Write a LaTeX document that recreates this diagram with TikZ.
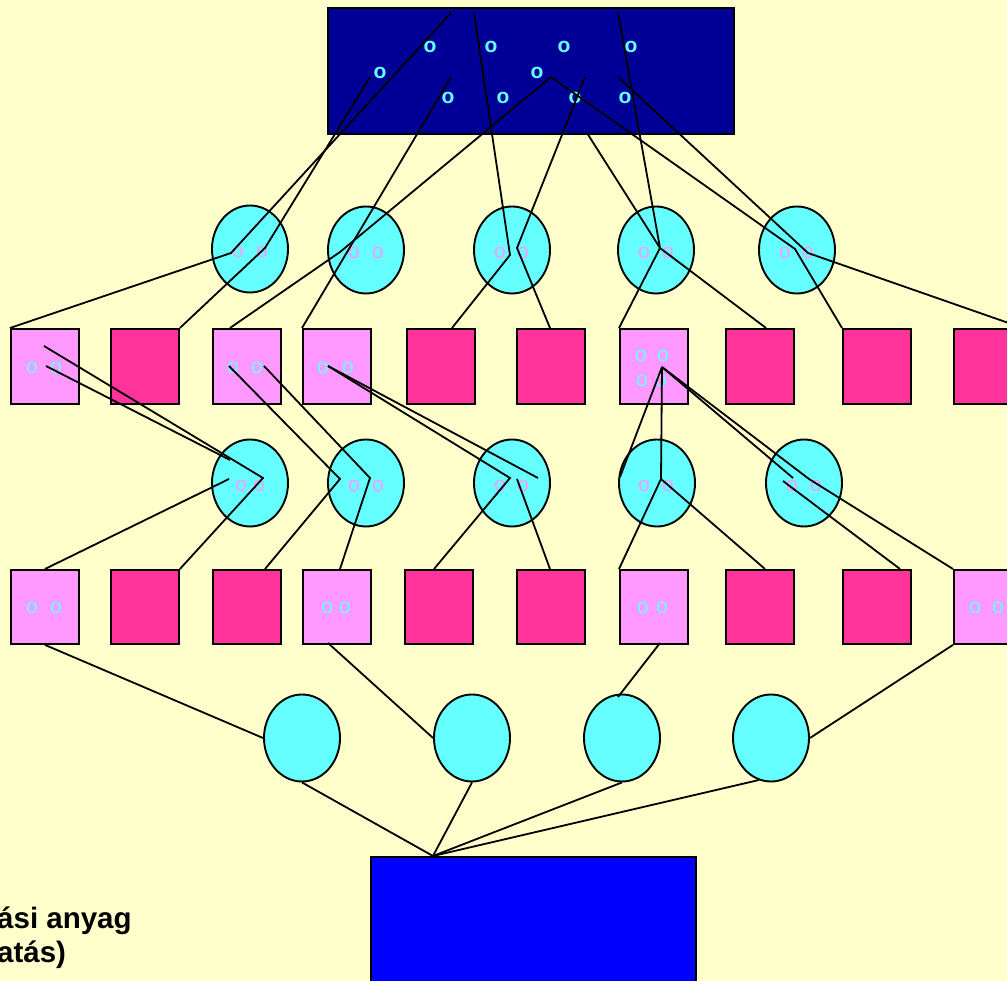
\documentclass[tikz,border=0pt]{standalone}
\usepackage{fontspec}
\setmainfont{Liberation Sans}
\usetikzlibrary{shapes.geometric}
\definecolor{paper}{HTML}{FFFFCC}
\definecolor{navy}{RGB}{0,0,150}
\definecolor{aqua}{HTML}{66FFFF}
\definecolor{lilac}{HTML}{FF99FF}
\definecolor{rose}{HTML}{FF3399}
\definecolor{pureblue}{RGB}{0,0,255}
% two small letters o whose centres lie #1 pt apart
\newcommand\opair[1]{o\hspace{\dimexpr #1pt - 0.556em\relax}o}
\begin{document}
\begin{tikzpicture}[x=1pt,y=-1pt,
  wire/.style={draw=black,line width=1.8pt,line join=miter},
  oval/.style={ellipse,draw=black,line width=1.9pt,fill=aqua,
    minimum width=76pt,minimum height=87pt,inner sep=0pt},
  tile/.style={rectangle,draw=black,line width=1.9pt,minimum width=68pt,
    minimum height=75pt,inner sep=0pt,anchor=north west},
  pale/.style={tile,fill=lilac},
  deep/.style={tile,fill=rose},
  obold/.style={text=aqua,inner sep=0pt,font=\bfseries\fontsize{21}{21}\selectfont},
  opink/.style={text=lilac,inner sep=0pt,font=\fontsize{21}{21}\selectfont},
  ocyan/.style={text=aqua,inner sep=0pt,font=\fontsize{21}{21}\selectfont},
  caption/.style={anchor=base west,inner sep=0pt,font=\bfseries\fontsize{29.5}{34}\selectfont}]

\useasboundingbox (0,0) rectangle (1007,981);
\fill[paper] (0,0) rectangle (1007,981);
\clip (0,0) rectangle (1007,981);

% ---- the two big blocks
\node[draw=black,line width=2pt,fill=navy,minimum width=406pt,minimum height=126pt,
      inner sep=0pt,anchor=north west] (top) at (327,7) {};
\node[draw=black,line width=2pt,fill=pureblue,minimum width=325pt,minimum height=160pt,
      inner sep=0pt,anchor=north west] (base) at (370,856) {};

% ---- letters in the upper block
\node[obold] (o1) at (430,47) {o};
\node[obold] (o2) at (491,47) {o};
\node[obold] (o3) at (564,47) {o};
\node[obold] (o4) at (631,47) {o};
\node[obold] (o5) at (380,73) {o};
\node[obold] (o6) at (537,73) {o};
\node[obold] (o7) at (448,98) {o};
\node[obold] (o8) at (503,98) {o};
\node[obold] (o9) at (575,98) {o};
\node[obold] (o10) at (625,98) {o};

% ---- first row of ovals
\node[oval] (r1) at (250,249) {};
\node[oval] (r2) at (366,250) {};
\node[oval] (r3) at (512,250) {};
\node[oval] (r4) at (656,250) {};
\node[oval] (r5) at (797,250) {};

% ---- first row of tiles
\node[pale] (a1) at (10,328) {};
\node[deep] (a2) at (110,328) {};
\node[pale] (a3) at (212,328) {};
\node[pale] (a4) at (302,328) {};
\node[deep] (a5) at (406,328) {};
\node[deep] (a6) at (516,328) {};
\node[pale] (a7) at (619,328) {};
\node[deep] (a8) at (725,328) {};
\node[deep] (a9) at (842,328) {};
\node[deep] (a10) at (953,328) {};

% ---- second row of ovals
\node[oval] (s1) at (250,483) {};
\node[oval] (s2) at (366,483) {};
\node[oval] (s3) at (512,483) {};
\node[oval] (s4) at (657,483) {};
\node[oval] (s5) at (804,483) {};

% ---- second row of tiles
\node[pale,minimum height=74pt] (b1) at (10,569) {};
\node[deep,minimum height=74pt] (b2) at (110,569) {};
\node[deep,minimum height=74pt] (b3) at (212,569) {};
\node[pale,minimum height=74pt] (b4) at (302,569) {};
\node[deep,minimum height=74pt] (b5) at (404,569) {};
\node[deep,minimum height=74pt] (b6) at (516,569) {};
\node[pale,minimum height=74pt] (b7) at (619,569) {};
\node[deep,minimum height=74pt] (b8) at (725,569) {};
\node[deep,minimum height=74pt] (b9) at (842,569) {};
\node[pale,minimum height=74pt] (b10) at (953,569) {};

% ---- third row of ovals
\node[oval] (t1) at (302,738) {};
\node[oval] (t2) at (472,738) {};
\node[oval] (t3) at (622,738) {};
\node[oval] (t4) at (771,738) {};

% ---- letter pairs
\node[opink] (lr1) at (250,252) {\opair{24}};
\node[opink] (lr2) at (366,253) {\opair{24}};
\node[opink] (lr3) at (511.5,253) {\opair{23}};
\node[opink] (lr4) at (656,253) {\opair{24}};
\node[opink] (lr5) at (796.5,253) {\opair{23}};
\node[opink] (ls1) at (250,486) {\opair{18}};
\node[opink] (ls2) at (366,486) {\opair{24}};
\node[opink] (ls3) at (511.5,486) {\opair{23}};
\node[opink] (ls4) at (656,486) {\opair{24}};
\node[opink] (ls5) at (804,486) {\opair{24}};
\node[ocyan] (la1) at (44,368) {\opair{24}};
\node[ocyan] (la3) at (245,368) {\opair{24}};
\node[ocyan] (la4) at (335.5,368) {\opair{25}};
\node[ocyan] (la7a) at (652,356) {\opair{22}};
\node[ocyan] (la7b) at (651.5,381) {\opair{19}};
\node[ocyan] (lb1) at (44,608) {\opair{24}};
\node[ocyan] (lb4) at (336,608) {\opair{18}};
\node[ocyan] (lb7) at (652.5,608) {\opair{19}};
\node[ocyan] (lb10) at (986.5,608) {\opair{23}};

% ---- caption at the lower left
\node[caption] (cap1) at (-3,928) {ási anyag};
\node[caption] (cap2) at (-3,962) {atás)};

% ---- points where the wires start and bend
\coordinate (p1) at (451,13);
\coordinate (p2) at (370,77);
\coordinate (p3) at (451,77);
\coordinate (p4) at (551,77);
\coordinate (p5) at (618,77);
\coordinate (p6) at (618,13);
\coordinate (p7) at (587,133);
\coordinate (p8) at (585,77);
\coordinate (p9) at (474,13);
\coordinate (k1) at (231,253);
\coordinate (k2) at (265,248);
\coordinate (k3) at (340,252);
\coordinate (k4) at (795,249);
\coordinate (k5) at (808,253);
\coordinate (k6) at (660,248);
\coordinate (k7) at (517,248);
\coordinate (k8) at (510,255);
\coordinate (e3) at (230,328);
\coordinate (e5) at (452,328);
\coordinate (e6) at (550,328);
\coordinate (e8) at (766,328);

\coordinate (m1) at (44,346);
\coordinate (m2) at (46,366);
\coordinate (m3) at (229,366);
\coordinate (m4) at (264,366);
\coordinate (m5) at (328,366);
\coordinate (m6) at (662,367);
\coordinate (n1) at (263,478);
\coordinate (n2) at (230,460);
\coordinate (n3) at (229,479);
\coordinate (n4) at (340,479);
\coordinate (n5) at (370,478);
\coordinate (n6) at (538,478);
\coordinate (n7) at (510,478);
\coordinate (n8) at (517,479);
\coordinate (n9) at (620,477);
\coordinate (n10) at (661,479);
\coordinate (n11) at (793,478);
\coordinate (n12) at (809,479);
\coordinate (n13) at (783,481);
\coordinate (f3) at (265,569);
\coordinate (f4) at (340,569);
\coordinate (f5) at (434,569);
\coordinate (f6) at (550,569);
\coordinate (f8) at (765,569);
\coordinate (f9) at (900,569);

\coordinate (g4) at (328,643);
\coordinate (g7) at (660,643);
\coordinate (h3) at (618,697);
\coordinate (h4) at (759,780);
\coordinate (hub) at (433,856);

% ---- upper block to first tiles
\draw[wire] (p1) -- (k1) -- (a1.north west);
\draw[wire] (p2) -- (k2) -- (a2.north east);
\draw[wire] (p3) -- (a4.north west);
\draw[wire] (p4) -- (k3) -- (e3);
\draw[wire] (p4) -- (k4) -- (a9.north west);
\draw[wire] (p5) -- (k5) -- (a10.north east);
\draw[wire] (p6) -- (k6) -- (a7.north west);
\draw[wire] (p7) -- (k6) -- (e8);
\draw[wire] (p8) -- (k7) -- (e6);
\draw[wire] (p9) -- (k8) -- (e5);

% ---- first tiles to second tiles
\draw[wire] (m1) -- (n1) -- (b2.north east);
\draw[wire] (m2) -- (n2);
\draw[wire] (n3) -- (b1.north);
\draw[wire] (m3) -- (n4) -- (f3);
\draw[wire] (m4) -- (n5) -- (f4);
\draw[wire] (m5) -- (n6);
\draw[wire] (m5) -- (n7) -- (f5);
\draw[wire] (n8) -- (f6);
\draw[wire] (m6) -- (n9);
\draw[wire] (m6) -- (n10) -- (b7.north west);
\draw[wire] (n10) -- (f8);
\draw[wire] (m6) -- (n11);
\draw[wire] (n13) -- (f9);
\draw[wire] (m6) -- (n12) -- (b10.north west);

% ---- second tiles to the lower ovals
\draw[wire] (b1.south) -- (t1.west);
\draw[wire] (g4) -- (t2.west);
\draw[wire] (g7) -- (h3);
\draw[wire] (b10.south west) -- (t4.east);

% ---- lower ovals to the base block
\draw[wire] (t1.south) -- (hub);
\draw[wire] (t2.south) -- (hub);
\draw[wire] (t3.south) -- (hub);
\draw[wire] (h4) -- (hub);
\end{tikzpicture}
\end{document}
